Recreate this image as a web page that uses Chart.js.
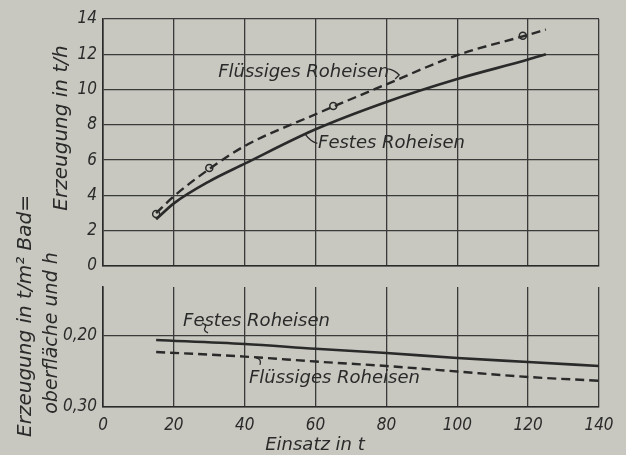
<!DOCTYPE html>
<html><head><meta charset="utf-8">
<script src="https://cdn.jsdelivr.net/npm/chart.js@4"></script>
<style>
html,body{margin:0;padding:0;background:#c8c8c0;}
#wrap{position:relative;width:626px;height:455px;background:#c8c8c0;overflow:hidden}
canvas{position:absolute;left:0;top:0}
</style></head>
<body><div id="wrap"><canvas id="c1" width="626" height="455"></canvas><canvas id="c2" width="626" height="455"></canvas></div>
<script>
// ---- data ----
const xTicks = [0, 20, 40, 60, 80, 100, 120, 140];
const topYTicks = [0, 2, 4, 6, 8, 10, 12, 14];
const topYLabels = ['0', '2', '4', '6', '8', '10', '12', '14'];
const festesX = [15, 20, 30, 40, 60, 80, 100, 120, 125];
const festesY = [2.65, 3.55, 4.8, 5.8, 7.75, 9.3, 10.6, 11.7, 12.0];
const fluessigX = [15, 20, 30, 40, 60, 80, 100, 120, 125];
const fluessigY = [3.0, 3.95, 5.5, 6.8, 8.6, 10.3, 11.95, 13.1, 13.4];
const messX = [15, 30, 65, 118.5];
const messY = [2.95, 5.55, 9.07, 13.05];
const bottomYTicks = [0.20, 0.30];
const bottomYLabels = ['0,20', '0,30'];
const badX = [15, 40, 60, 80, 100, 120, 140];
const festesBadY = [0.2056, 0.2113, 0.218, 0.224, 0.231, 0.2366, 0.2423];
const fluessigBadY = [0.2225, 0.229, 0.236, 0.2423, 0.250, 0.2577, 0.263];

const INK = '#2a2a2a';
const GRID = '#3a3a3a';
const BG = '#c8c8c0';
const FONT = '"DejaVu Sans"';
const COND = '"DejaVu Sans Condensed", "DejaVu Sans"';
const pts = (xs, ys) => xs.map((x, i) => ({x, y: ys[i]}));

function text(ctx, s, x, y, size, rot, align, fam) {
  ctx.save();
  ctx.translate(x, y);
  if (rot) ctx.rotate(rot);
  ctx.font = 'italic ' + size + 'px ' + (fam || FONT);
  ctx.fillStyle = INK;
  ctx.textAlign = align || 'left';
  ctx.textBaseline = 'middle';
  ctx.fillText(s, 0, 0);
  ctx.restore();
}

const topLabels = {
  id: 'topLabels',
  afterDatasetsDraw(chart) {
    const {ctx, scales: {x, y}} = chart;
    text(ctx, 'Flüssiges Roheisen', x.getPixelForValue(32.5), y.getPixelForValue(11.0), 18);
    text(ctx, 'Festes Roheisen', x.getPixelForValue(60.7), y.getPixelForValue(6.95), 18);
    text(ctx, 'Erzeugung in t/h', 62, 128, 20, -Math.PI / 2, 'center');
    ctx.save();
    ctx.strokeStyle = INK; ctx.lineWidth = 1.3;
    let ax = x.getPixelForValue(80.5), ay = y.getPixelForValue(11.0);
    ctx.beginPath(); ctx.moveTo(ax, ay - 3); ctx.quadraticCurveTo(ax + 6, ay - 2, ax + 11, ay + 3); ctx.lineTo(ax + 7, ay + 7); ctx.stroke();
    ax = x.getPixelForValue(60.5); ay = y.getPixelForValue(6.95);
    ctx.beginPath(); ctx.moveTo(ax, ay); ctx.quadraticCurveTo(ax - 7, ay - 2, ax - 12, ay - 9); ctx.lineTo(ax - 8, ay - 12); ctx.stroke();
    ctx.restore();
  }
};

const bottomLabels = {
  id: 'bottomLabels',
  afterDatasetsDraw(chart) {
    const {ctx, scales: {x, y}} = chart;
    text(ctx, 'Festes Roheisen', x.getPixelForValue(22.6), y.getPixelForValue(0.1789), 18);
    text(ctx, 'Flüssiges Roheisen', x.getPixelForValue(41.2), y.getPixelForValue(0.2592), 18);
    text(ctx, 'Erzeugung in t/m² Bad=', 26, 316, 20, -Math.PI / 2, 'center');
    text(ctx, 'oberfläche und h', 52, 333, 19, -Math.PI / 2, 'center');
    text(ctx, 'Einsatz in t', 315, 445, 18, 0, 'center');
    ctx.save();
    ctx.strokeStyle = INK; ctx.lineWidth = 1.3;
    let ax = x.getPixelForValue(28.8), ay = y.getPixelForValue(0.1915);
    ctx.beginPath(); ctx.moveTo(ax - 3, ay - 7); ctx.quadraticCurveTo(ax + 2, ay - 5, ax, ay - 2); ctx.quadraticCurveTo(ax - 2, ay + 1, ax + 3, ay + 3); ctx.stroke();
    ax = x.getPixelForValue(44.3); ay = y.getPixelForValue(0.2365);
    ctx.beginPath(); ctx.moveTo(ax - 4, ay - 4); ctx.quadraticCurveTo(ax + 2, ay - 3, ax, ay + 3); ctx.stroke();
    ctx.restore();
  }
};

const tickFont = {family: COND, size: 17, style: 'italic'};
const gridOpt = {color: GRID, lineWidth: 1.3, drawTicks: false};
const borderOpt = {color: INK, width: 1.6};

new Chart(document.getElementById('c1'), {
  type: 'line',
  data: {datasets: [
    {label: 'Festes Roheisen', data: pts(festesX, festesY), borderColor: INK, borderWidth: 2.6, pointRadius: 0, cubicInterpolationMode: 'monotone', fill: false},
    {label: 'Flüssiges Roheisen', data: pts(fluessigX, fluessigY), borderColor: INK, borderWidth: 2.4, borderDash: [9, 5], pointRadius: 0, cubicInterpolationMode: 'monotone', fill: false},
    {label: 'Messpunkte', data: pts(messX, messY), showLine: false, pointRadius: 3.5, pointBackgroundColor: BG, pointBorderColor: INK, pointBorderWidth: 1.5}
  ]},
  options: {
    responsive: false, animation: false,
    layout: {padding: {left: 0, top: 19, right: 27, bottom: 189}},
    plugins: {legend: {display: false}, tooltip: {enabled: false}},
    scales: {
      x: {type: 'linear', min: 0, max: 140, ticks: {display: false},
        afterBuildTicks(s) { s.ticks = xTicks.map(v => ({value: v})); },
        grid: gridOpt, border: borderOpt, afterFit(s) { s.height = 0; }},
      y: {type: 'linear', min: 0, max: 14,
        afterBuildTicks(s) { s.ticks = topYTicks.map(v => ({value: v})); },
        ticks: {font: tickFont, color: INK, padding: 6, callback: (v) => topYLabels[topYTicks.indexOf(v)]},
        grid: gridOpt, border: borderOpt, afterFit(s) { s.width = 103; }}
    }
  },
  plugins: [topLabels]
});

new Chart(document.getElementById('c2'), {
  type: 'line',
  data: {datasets: [
    {label: 'Festes Roheisen', data: pts(badX, festesBadY), borderColor: INK, borderWidth: 2.6, pointRadius: 0, cubicInterpolationMode: 'monotone', fill: false},
    {label: 'Flüssiges Roheisen', data: pts(badX, fluessigBadY), borderColor: INK, borderWidth: 2.4, borderDash: [9, 5], pointRadius: 0, cubicInterpolationMode: 'monotone', fill: false}
  ]},
  options: {
    responsive: false, animation: false,
    layout: {padding: {left: 0, top: 287, right: 27, bottom: 0}},
    plugins: {legend: {display: false}, tooltip: {enabled: false}},
    scales: {
      x: {type: 'linear', min: 0, max: 140,
        afterBuildTicks(s) { s.ticks = xTicks.map(v => ({value: v})); },
        ticks: {font: tickFont, color: INK, padding: 8, maxRotation: 0, callback: (v) => String(v)},
        grid: gridOpt, border: borderOpt, afterFit(s) { s.height = 48; }},
      y: {type: 'linear', min: 0.131, max: 0.30, reverse: true,
        afterBuildTicks(s) { s.ticks = bottomYTicks.map(v => ({value: v})); },
        ticks: {font: tickFont, color: INK, padding: 6, callback: (v) => bottomYLabels[bottomYTicks.indexOf(v)]},
        grid: gridOpt, border: borderOpt, afterFit(s) { s.width = 103; }}
    }
  },
  plugins: [bottomLabels]
});
</script></body></html>
